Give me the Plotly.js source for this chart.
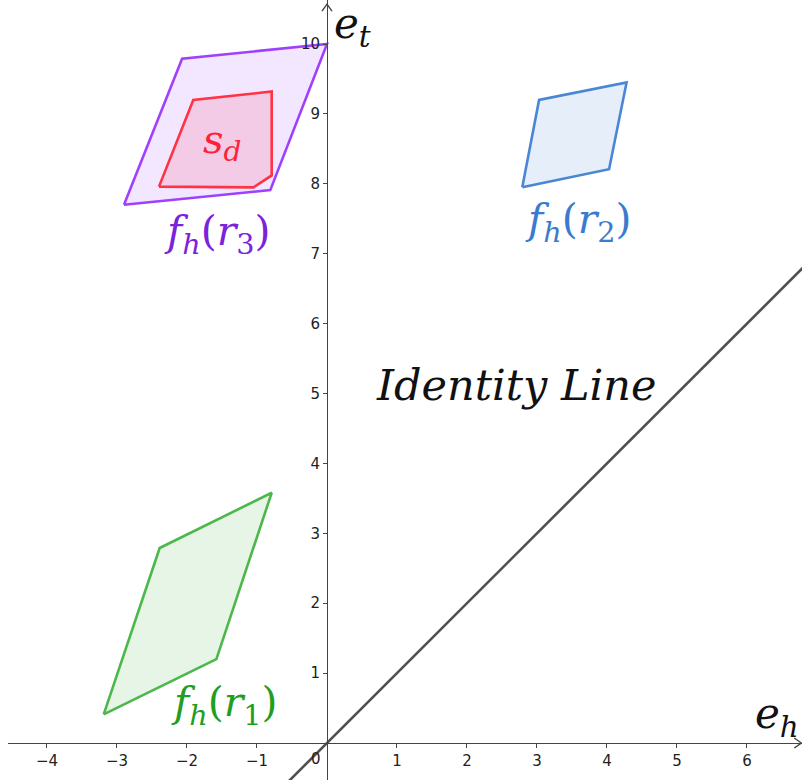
<!DOCTYPE html>
<html>
<head>
<meta charset="utf-8">
<script src="https://cdn.plot.ly/plotly-3.0.1.min.js"></script>
<style>
  html, body { margin: 0; padding: 0; background: #fff; }
  #plot { width: 802px; height: 780px; }
</style>
</head>
<body>
<div id="plot"></div>
<script>
// Region f_h(r1)
const r1X = [-3.19, -2.39, -0.79, -1.58];
const r1Y = [0.41, 2.79, 3.58, 1.20];
// Region f_h(r2)
const r2X = [2.79, 3.03, 4.28, 4.03];
const r2Y = [7.95, 9.20, 9.45, 8.21];
// Region f_h(r3)
const r3X = [-2.90, -2.07, 0.00, -0.81];
const r3Y = [7.70, 9.79, 10.00, 7.91];
// Set s_d inside f_h(r3)
const sdX = [-2.40, -1.91, -0.79, -0.79, -1.05];
const sdY = [7.96, 9.20, 9.32, 8.12, 7.95];
// Identity line e_t = e_h
const idX = [-0.60, 6.90];
const idY = [-0.60, 6.90];

// Axis ticks (0 is labelled once at the origin)
const xTicks = [-4, -3, -2, -1, 1, 2, 3, 4, 5, 6];
const yTicks = [1, 2, 3, 4, 5, 6, 7, 8, 9, 10];

const xRange = [-4.557, 6.786];
const yRange = [-0.529, 10.63];

function closed(a) { return a.concat([a[0]]); }

function region(xs, ys, line, fill) {
  return {
    type: 'scatter', mode: 'lines',
    x: closed(xs), y: closed(ys),
    fill: 'toself', fillcolor: fill,
    line: { color: line, width: 2.6 },
    hoverinfo: 'skip', showlegend: false
  };
}

const traces = [
  {
    type: 'scatter', mode: 'lines', x: idX, y: idY,
    line: { color: '#505050', width: 2.6 },
    hoverinfo: 'skip', showlegend: false
  },
  region(r1X, r1Y, '#4cb84c', 'rgba(76,184,76,0.14)'),
  region(r2X, r2Y, '#4a86d4', 'rgba(74,134,212,0.14)'),
  region(r3X, r3Y, '#a040ff', 'rgba(160,64,255,0.13)'),
  region(sdX, sdY, '#ff3344', 'rgba(255,40,80,0.14)')
];

const serif = 'DejaVu Serif, Liberation Serif, serif';
const tickFont = { family: 'DejaVu Sans, sans-serif', size: 15, color: '#222' };

function label(text, x, y, size, color) {
  return { x: x, y: y, xref: 'x', yref: 'y', text: text, showarrow: false,
           font: { family: serif, size: size, color: color },
           xanchor: 'center', yanchor: 'middle' };
}

const fh = n => '<i>f</i><sub><i>h</i></sub>(<i>r</i><sub>' + n + '</sub>)';

const annotations = [
  label(fh(3), -1.56, 7.28, 41, '#7a22dc'),
  label(fh(2), 3.59, 7.45, 41, '#3a7bd0'),
  label(fh(1), -1.46, 0.54, 41, '#1f9e1f'),
  label('<i>s</i><sub><i>d</i></sub>', -1.50, 8.60, 40, '#ff1f3a'),
  label('<i>Identity Line</i>', 2.70, 5.12, 43, '#111'),
  label('<i>e</i><sub><i>t</i></sub>', 0.37, 10.25, 42, '#111'),
  label('<i>e</i><sub><i>h</i></sub>', 6.43, 0.38, 42, '#111'),
  { x: 0, y: 0, xref: 'x', yref: 'y', text: '0', showarrow: false,
    font: tickFont, xanchor: 'right', yanchor: 'top', xshift: -4, yshift: -5 }
];

// open arrow heads at the ends of both axes
const shapes = [
  { type: 'path', xref: 'x', yref: 'y', xsizemode: 'pixel', ysizemode: 'pixel',
    xanchor: 0, yanchor: yRange[1] - 0.06,
    path: 'M-5,-7L0,0L5,-7', line: { color: '#444', width: 1.4 } },
  { type: 'path', xref: 'x', yref: 'y', xsizemode: 'pixel', ysizemode: 'pixel',
    xanchor: xRange[1] - 0.01, yanchor: 0,
    path: 'M-7,-5L0,0L-7,5', line: { color: '#444', width: 1.4 } }
];

const layout = {
  width: 802, height: 780,
  margin: { l: 8, r: 0, t: 0, b: 0 },
  paper_bgcolor: '#fff', plot_bgcolor: '#fff',
  font: tickFont,
  showlegend: false,
  xaxis: {
    range: xRange, anchor: 'free',
    position: (0 - yRange[0]) / (yRange[1] - yRange[0]),
    showgrid: false, zeroline: false,
    showline: true, linecolor: '#444', linewidth: 1.4,
    ticks: 'outside', ticklen: 4, tickwidth: 1, tickcolor: '#444',
    tickvals: xTicks, ticktext: xTicks.map(v => String(v).replace('-', '\u2212')),
    tickfont: tickFont, fixedrange: true
  },
  yaxis: {
    range: yRange, anchor: 'free',
    position: (0 - xRange[0]) / (xRange[1] - xRange[0]),
    showgrid: false, zeroline: false,
    showline: true, linecolor: '#444', linewidth: 1.4,
    ticks: 'outside', ticklen: 4, tickwidth: 1, tickcolor: '#444',
    tickvals: yTicks, ticktext: yTicks.map(String),
    tickfont: tickFont, fixedrange: true
  },
  annotations: annotations,
  shapes: shapes
};

Plotly.newPlot('plot', traces, layout, { staticPlot: true, displayModeBar: false });
</script>
</body>
</html>
